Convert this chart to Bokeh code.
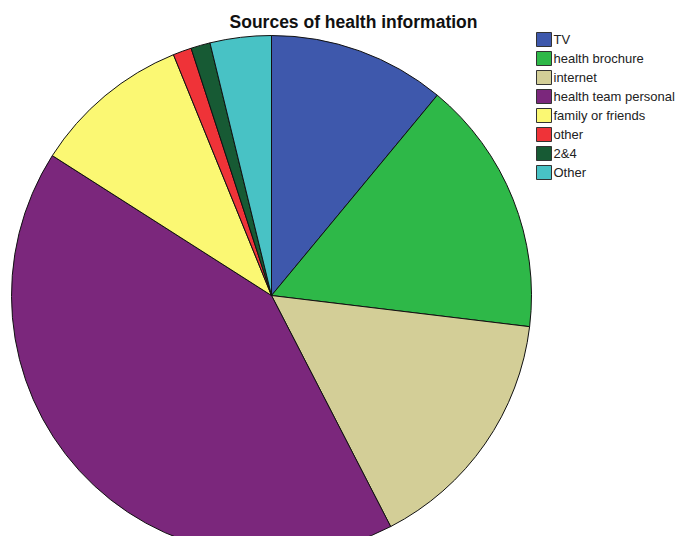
import numpy as np
from bokeh.plotting import figure
from bokeh.models import Range1d, ColumnDataSource
from bokeh.core.properties import value
from bokeh.embed import file_html
from bokeh.resources import INLINE

categories = ["TV", "health brochure", "internet", "health team personal",
              "family or friends", "other", "2&4", "Other"]
percents = [11.0, 15.9, 15.5, 41.6, 9.8, 1.15, 1.2, 3.8]
colors = ["#3E58AC", "#2EB848", "#D3CE97", "#7B277C",
          "#FBF873", "#EF3338", "#175A34", "#48C2C5"]

W, H = 676, 536
p = figure(width=W, height=H, output_backend="svg", toolbar_location=None,
           x_range=Range1d(0, W), y_range=Range1d(0, H), min_border=0)
p.axis.visible = False
p.grid.visible = False
p.outline_line_color = None
p.background_fill_color = "white"

vals = np.array(percents, dtype=float)
frac = vals / vals.sum() * 2 * np.pi
cum_end = np.cumsum(frac)
cum_start = cum_end - frac
src = ColumnDataSource(dict(
    cat=categories, color=colors,
    start=np.pi / 2 - cum_end, end=np.pi / 2 - cum_start,
))
cx, cy, r = 271, 241, 260
p.wedge(x=cx, y=cy, radius=r, start_angle="start", end_angle="end",
        fill_color="color", line_color="#111111", line_width=1, source=src)

# title
p.text(x=[353], y=[514.5], text=["Sources of health information"],
       text_font=value("Liberation Sans"), text_font_size="17.5px",
       text_font_style="bold", text_align="center", text_baseline="middle",
       text_color="#111111")

# legend
n = len(categories)
ly = [497 - 19 * i for i in range(n)]
lsrc = ColumnDataSource(dict(y=ly, color=colors, cat=categories))
p.rect(x=543.5, y="y", width=15, height=14, fill_color="color",
       line_color="#333333", line_width=1, source=lsrc)
p.text(x=553, y="y", text="cat", source=lsrc,
       text_font=value("Liberation Sans"), text_font_size="13px",
       text_baseline="middle", text_align="left", text_color="#222222")

open("out.html", "w").write(file_html(p, INLINE))
